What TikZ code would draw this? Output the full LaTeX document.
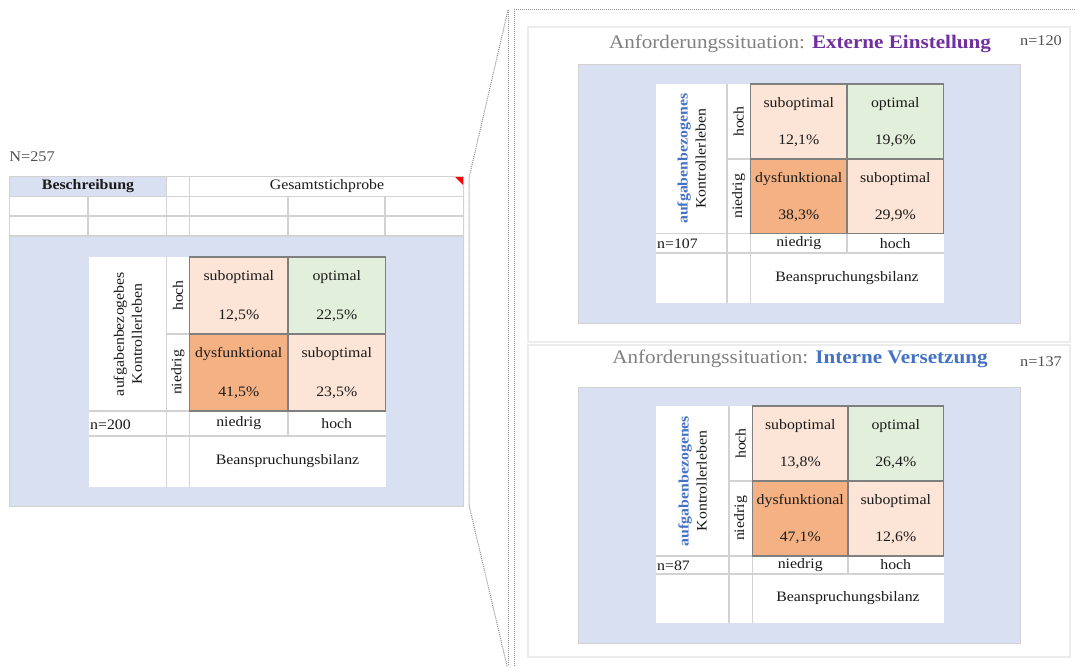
\documentclass[tikz,border=0pt]{standalone}
\usepackage{fontspec}
\setmainfont{Liberation Serif}[FakeStretch=1.1]

\definecolor{panelblue}{HTML}{D9E0F2}
\definecolor{subopt}{HTML}{FCE4D6}
\definecolor{opt}{HTML}{E2EFDA}
\definecolor{dysf}{HTML}{F4B183}
\definecolor{gridgray}{HTML}{7F7F7F}
\definecolor{rulegray}{HTML}{D2D2D2}
\definecolor{titlegray}{HTML}{808080}
\definecolor{purp}{HTML}{7030A0}
\definecolor{accentblue}{HTML}{4472C4}
\definecolor{ink}{HTML}{1A1A1A}
\definecolor{notegray}{HTML}{505050}
\definecolor{framegray}{HTML}{ECECEC}
\definecolor{dotgray}{HTML}{8E8E8E}

% column and row positions of one 2x2 matrix table
\newcommand\quadcols[5]{\def\qxa{#1}\def\qxb{#2}\def\qxc{#3}\def\qxd{#4}\def\qxe{#5}}
\newcommand\quadrows[5]{\def\qya{#1}\def\qyb{#2}\def\qyc{#3}\def\qyd{#4}\def\qye{#5}}

% #1 name, #2 first axis line, #3 sample size, #4..#7 shares (tl, tr, bl, br)
\newcommand\quadtable[7]{%
  \fill[white] (\qxa,\qya) rectangle (\qxe,\qye);
  \fill[subopt] (\qxc,\qya) rectangle (\qxd,\qyb);
  \fill[opt]    (\qxd,\qya) rectangle (\qxe,\qyb);
  \fill[dysf]   (\qxc,\qyb) rectangle (\qxd,\qyc);
  \fill[subopt] (\qxd,\qyb) rectangle (\qxe,\qyc);
  \draw[rule] (\qxb,\qya) -- (\qxb,\qye);
  \draw[rule] (\qxc,\qyc) -- (\qxc,\qye);
  \draw[rule] (\qxd,\qyc) -- (\qxd,\qyd);
  \draw[rule] (\qxa,\qyc) -- (\qxc,\qyc);
  \draw[rule] (\qxb,\qyb) -- (\qxc,\qyb);
  \draw[rule] (\qxa,\qyd) -- (\qxe,\qyd);
  \draw[gridline] (\qxc,\qya) rectangle (\qxe,\qyc);
  \draw[gridline] (\qxd,\qya) -- (\qxd,\qyc);
  \draw[gridline] (\qxc,\qyb) -- (\qxe,\qyb);
  \node[rot, align=center, font=\fontsize{14.4}{18}\selectfont] (#1-axis)
    at ({(\qxa+\qxb)/2},{(\qya+\qyc)/2}) {#2\\Kontrollerleben};
  \node[rot] (#1-hi) at ({(\qxb+\qxc)/2},{(\qya+\qyb)/2}) {hoch};
  \node[rot] (#1-lo) at ({(\qxb+\qxc)/2},{(\qyb+\qyc)/2}) {niedrig};
  \node[txt] (#1-tl-w) at ({(\qxc+\qxd)/2},{\qya+20}) {suboptimal};
  \node[txt] (#1-tl-p) at ({(\qxc+\qxd)/2},{\qyb-18}) {#4};
  \node[txt] (#1-tr-w) at ({(\qxd+\qxe)/2},{\qya+20}) {optimal};
  \node[txt] (#1-tr-p) at ({(\qxd+\qxe)/2},{\qyb-18}) {#5};
  \node[txt] (#1-bl-w) at ({(\qxc+\qxd)/2},{\qyb+20}) {dysfunktional};
  \node[txt] (#1-bl-p) at ({(\qxc+\qxd)/2},{\qyc-18}) {#6};
  \node[txt] (#1-br-w) at ({(\qxd+\qxe)/2},{\qyb+20}) {suboptimal};
  \node[txt] (#1-br-p) at ({(\qxd+\qxe)/2},{\qyc-18}) {#7};
  \node[txt, anchor=west] (#1-n) at ({\qxa+1},{(\qyc+\qyd)/2+1}) {#3};
  \node[txt] (#1-xlo) at ({(\qxc+\qxd)/2},{(\qyc+\qyd)/2}) {niedrig};
  \node[txt] (#1-xhi) at ({(\qxd+\qxe)/2},{(\qyc+\qyd)/2}) {hoch};
  \node[txt] (#1-xaxis) at ({(\qxc+\qxe)/2},{(\qyd+\qye)/2}) {Beanspruchungsbilanz};
}

\begin{document}
\begin{tikzpicture}[x=1pt,y=-1pt,
  txt/.style={inner sep=0pt, text=ink, font=\fontsize{14.4}{17}\selectfont},
  rot/.style={txt, rotate=90},
  rule/.style={draw=rulegray, line width=1.6pt},
  gridline/.style={draw=gridgray, line width=1.8pt},
  dotline/.style={draw=dotgray, line width=1pt, dash pattern=on 1pt off 1pt},
  frame/.style={draw=framegray, line width=1.5pt},
  title/.style={inner sep=0pt, text=titlegray, font=\fontsize{19.2}{22}\selectfont},
  note/.style={inner sep=0pt, text=notegray, font=\fontsize{14.8}{17}\selectfont},
  ]
\useasboundingbox (0,0) rectangle (1075,666);
\fill[white] (0,0) rectangle (1075,666);

% ---------- overall sample ----------
\node[note] (Ntotal) at (32,157) {N=257};
\fill[panelblue] (9,236) rectangle (464,506);
\fill[panelblue] (10,177) rectangle (166,196);
\draw[rule, line width=1pt] (9.5,176) rectangle (463.5,506);
\foreach \yy in {176.5,196.5,216,236}
  \draw[rule] (9,\yy) -- (464,\yy);
\foreach \xx in {166.5,189.5}
  \draw[rule] (\xx,176) -- (\xx,236);
\foreach \xx in {88,288,385}
  \draw[rule] (\xx,196) -- (\xx,236);
\node[txt, font=\fontsize{14.4}{17}\selectfont\bfseries] (head1) at (88,186) {Beschreibung};
\node[txt] (head2) at (327,186) {Gesamtstichprobe};
\fill[red] (455,177) -- (463,177) -- (463,185) -- cycle;

\quadcols{89}{166.5}{189.5}{288}{385.5}
\quadrows{257}{334}{411}{436}{487}
\quadtable{all}{aufgabenbezogebes}{n=200}{12,5\%}{22,5\%}{41,5\%}{23,5\%}

% ---------- zoom callout ----------
\coordinate (zA) at (508,10);
\coordinate (zB) at (469,178);
\coordinate (zC) at (469,505);
\coordinate (zD) at (507,666);
\coordinate (zE) at (508,666);
\coordinate (fA) at (514,10);
\coordinate (fB) at (1075,10);
\coordinate (fC) at (514,666);
\draw[dotline] (zA) -- (zB) -- (zC) -- (zD);
\draw[dotline] (zA) -- (zE);
\draw[dotline] (fB) -- (fA) -- (fC);

% ---------- external hiring ----------
\draw[frame] (528,27) rectangle (1070,342);
\node[title] (t1) at (800,44) {Anforderungssituation: \textbf{\color{purp}Externe Einstellung}};
\node[note] (n1) at (1041,41) {n=120};
\fill[panelblue] (578,64) rectangle (1020,323);
\draw[rulegray, line width=0.8pt] (578,64) rectangle (1020,323);
\quadcols{656}{727}{750.5}{847}{943.5}
\quadrows{84}{159}{233.5}{253}{303}
\quadtable{ext}{\textbf{\color{accentblue}aufgabenbezogenes}}{n=107}{12,1\%}{19,6\%}{38,3\%}{29,9\%}

% ---------- internal transfer ----------
\draw[frame] (528,345) rectangle (1070,657);
\node[title] (t2) at (800,359) {Anforderungssituation: \textbf{\color{accentblue}Interne Versetzung}};
\node[note] (n2) at (1041,362) {n=137};
\fill[panelblue] (578,387) rectangle (1020,643);
\draw[rulegray, line width=0.8pt] (578,387) rectangle (1020,643);
\quadcols{656}{729}{752.5}{848}{943.5}
\quadrows{406}{481}{556}{574}{623}
\quadtable{int}{\textbf{\color{accentblue}aufgabenbezogenes}}{n=87}{13,8\%}{26,4\%}{47,1\%}{12,6\%}
\end{tikzpicture}
\end{document}
